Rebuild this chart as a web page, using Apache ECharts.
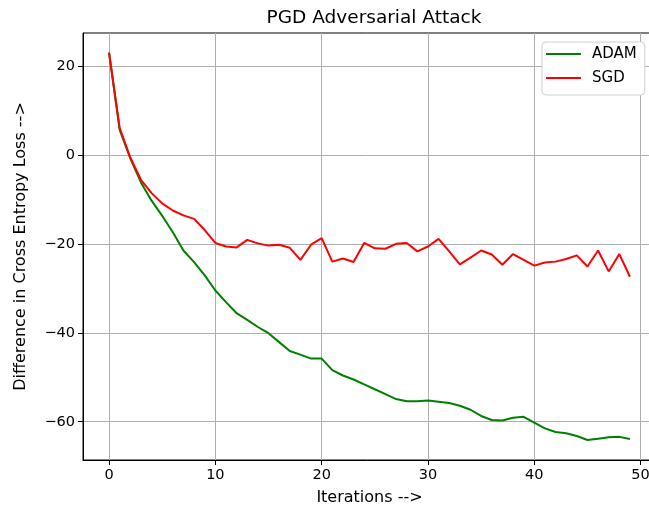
<!DOCTYPE html>
<html>
<head>
<meta charset="utf-8">
<script src="https://cdn.jsdelivr.net/npm/echarts@6/dist/echarts.min.js"></script>
<style>
html,body{margin:0;padding:0;background:#fff;}
#chart{width:649px;height:510px;}
</style>
</head>
<body>
<div id="chart"></div>
<script>
const iterations = Array.from({length: 50}, (_, i) => i);
const adam = [23.0, 5.6, -0.8, -6.2, -10.3, -13.7, -17.4, -21.5, -24.1, -27.1,
  -30.5, -33.1, -35.6, -37.1, -38.7, -40.1, -42.1, -44.1, -44.9, -45.8,
  -45.8, -48.4, -49.6, -50.5, -51.6, -52.7, -53.8, -54.9, -55.4, -55.4,
  -55.2, -55.5, -55.8, -56.4, -57.3, -58.7, -59.6, -59.7, -59.1, -58.9,
  -60.2, -61.5, -62.3, -62.6, -63.2, -64.1, -63.8, -63.5, -63.4, -63.9];
const sgd = [23.0, 6.0, -0.6, -5.6, -8.6, -10.9, -12.5, -13.6, -14.4, -16.9,
  -19.8, -20.6, -20.8, -19.1, -19.9, -20.4, -20.2, -20.9, -23.6, -20.2,
  -18.7, -24.0, -23.3, -24.1, -19.8, -21.0, -21.1, -20.0, -19.8, -21.7,
  -20.6, -18.9, -21.7, -24.6, -23.1, -21.5, -22.4, -24.7, -22.3, -23.6,
  -24.9, -24.2, -24.0, -23.4, -22.6, -25.1, -21.5, -26.2, -22.3, -27.4];
const xTicks = [0, 10, 20, 30, 40, 50];
const yTicks = [-60, -40, -20, 0, 20];

const font = 'DejaVu Sans';
const minus = v => String(v).replace('-', '\u2212');
const chart = echarts.init(document.getElementById('chart'), null, {renderer: 'canvas'});
chart.setOption({
  animation: false,
  backgroundColor: '#fff',
  title: {
    text: 'PGD Adversarial Attack', left: 369, top: 4, textAlign: 'center',
    textStyle: {fontFamily: font, fontSize: 18.5, fontWeight: 'normal', color: '#000'}
  },
  grid: {left: 83, top: 33, width: 573, height: 427, show: true, outerBoundsMode: 'none',
    containLabel: false,
    borderColor: '#000', borderWidth: 1, backgroundColor: 'transparent'},
  legend: {
    orient: 'vertical', left: 542, top: 42, itemWidth: 35, itemHeight: 2, itemGap: 8,
    icon: 'rect',
    padding: [4, 8, 9, 4], backgroundColor: '#fff', borderColor: '#d0d0d0', borderWidth: 1, borderRadius: 4,
    textStyle: {fontFamily: font, fontSize: 15, color: '#000', lineHeight: 16, padding: [0, 0, 0, 6]},
    data: ['ADAM', 'SGD']
  },
  xAxis: {
    type: 'value', min: -2.45, max: 51.45,
    name: 'Iterations -->', nameLocation: 'middle', nameGap: 30,
    nameTextStyle: {fontFamily: font, fontSize: 16, color: '#000'},
    axisLine: {show: true, onZero: false, lineStyle: {color: '#000', width: 1}},
    axisTick: {show: true, length: 5, customValues: xTicks, lineStyle: {color: '#000'}},
    axisLabel: {customValues: xTicks, fontFamily: font, fontSize: 14.5, color: '#000', margin: 8, formatter: minus},
    splitLine: {show: true, lineStyle: {color: '#b0b0b0', width: 1}}
  },
  yAxis: {
    type: 'value', min: -68.6, max: 27.4,
    name: 'Difference in Cross Entropy Loss -->', nameLocation: 'middle', nameGap: 54, nameRotate: 90,
    nameTextStyle: {fontFamily: font, fontSize: 16, color: '#000'},
    axisLine: {show: true, onZero: false, lineStyle: {color: '#000', width: 1}},
    axisTick: {show: true, length: 5, customValues: yTicks, lineStyle: {color: '#000'}},
    axisLabel: {customValues: yTicks, fontFamily: font, fontSize: 14.5, color: '#000', margin: 8, formatter: minus},
    splitLine: {show: true, lineStyle: {color: '#b0b0b0', width: 1}}
  },
  series: [
    {name: 'ADAM', type: 'line', data: iterations.map((x, i) => [x, adam[i]]),
      showSymbol: false, symbol: 'none', color: '#008000', lineStyle: {width: 2, color: '#008000'}},
    {name: 'SGD', type: 'line', data: iterations.map((x, i) => [x, sgd[i]]),
      showSymbol: false, symbol: 'none', color: '#ff0000', lineStyle: {width: 2, color: '#ff0000'}}
  ]
});
</script>
</body>
</html>
